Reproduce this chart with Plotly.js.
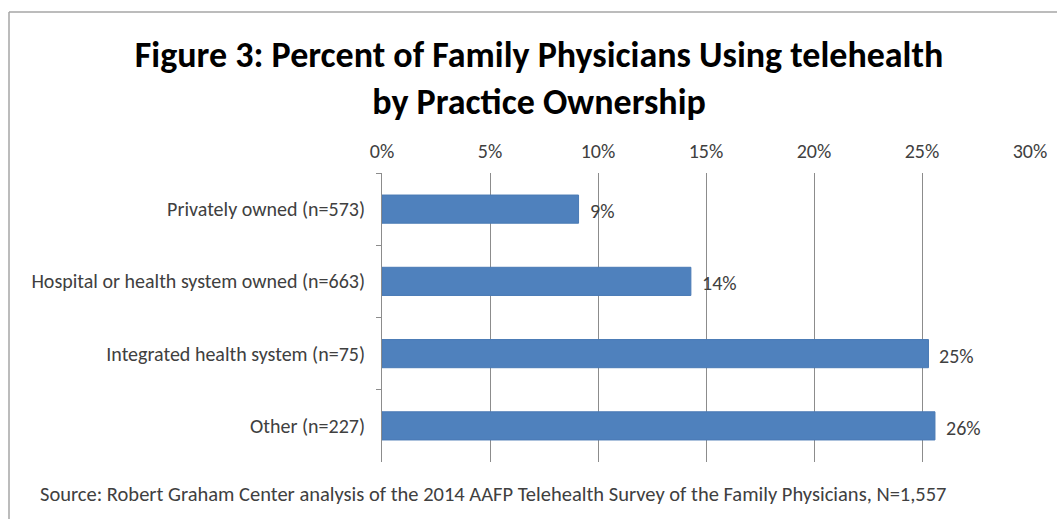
<!DOCTYPE html>
<html>
<head>
<meta charset="utf-8">
<script src="https://cdn.plot.ly/plotly-3.0.1.min.js"></script>
<style>html,body{margin:0;padding:0;background:#fff;}#chart{width:1057px;height:519px;}</style>
</head>
<body>
<div id="chart"></div>
<script>
const categories = ["Privately owned (n=573)", "Hospital or health system owned (n=663)", "Integrated health system (n=75)", "Other (n=227)"];
const values = [9.1, 14.3, 25.3, 25.6];
const valueLabels = ["9%", "14%", "25%", "26%"];
const tickVals = [0, 5, 10, 15, 20, 25, 30];
const tickText = ["0%", "5%", "10%", "15%", "20%", "25%", "30%"];
const titleText = "Figure 3: Percent of Family Physicians Using telehealth<br>by Practice Ownership";
const sourceText = "Source: Robert Graham Center analysis of the 2014 AAFP Telehealth Survey of the Family Physicians, N=1,557";

const font = "Carlito, Lato, sans-serif";
const L = 382, R = 1030, T = 173, B = 462;
const px = x => (x - L) / (R - L);
const py = y => (B - y) / (B - T);

const trace = {
  type: "bar",
  orientation: "h",
  x: values,
  y: categories,
  marker: {color: "#4F81BD", line: {color: "#4A7AB5", width: 1}},
  width: 0.39,
  hoverinfo: "none"
};

const labelAnns = values.map((v, i) => ({
  x: v, y: categories[i], xref: "x", yref: "y",
  text: valueLabels[i], showarrow: false,
  xanchor: "left", yanchor: "middle", xshift: 9, yshift: -2,
  font: {family: font, size: 20, color: "#404040"}
}));

const layout = {
  width: 1057, height: 519,
  margin: {l: L, r: 1057 - R, t: T, b: 519 - B, pad: 0},
  paper_bgcolor: "#ffffff",
  plot_bgcolor: "#ffffff",
  showlegend: false,
  title: {
    text: titleText,
    font: {family: font, size: 36, color: "#000000", weight: "bold"},
    x: 0.51, xref: "container", xanchor: "center",
    y: 0.87, yref: "container", yanchor: "top"
  },
  xaxis: {
    side: "top",
    range: [0, 30],
    tickvals: tickVals,
    ticktext: tickText,
    showgrid: true,
    gridcolor: "#8c8c8c",
    gridwidth: 1,
    zeroline: false,
    showline: false,
    ticks: "",
    tickfont: {family: font, size: 20, color: "#404040"},
    ticklabelstandoff: 10,
    fixedrange: true
  },
  yaxis: {
    autorange: "reversed",
    showline: true,
    linecolor: "#8c8c8c",
    linewidth: 1,
    ticks: "outside",
    ticklen: 5,
    tickcolor: "#8c8c8c",
    tickson: "boundaries",
    showgrid: false,
    zeroline: false,
    tickfont: {family: font, size: 20, color: "#404040"},
    ticklabelstandoff: 12,
    fixedrange: true
  },
  shapes: [
    {type: "line", xref: "paper", yref: "paper", x0: px(9), x1: px(1060), y0: py(12), y1: py(12), line: {color: "#a6a6a6", width: 1.5}},
    {type: "line", xref: "paper", yref: "paper", x0: px(9), x1: px(9), y0: py(12), y1: py(522), line: {color: "#a6a6a6", width: 1.5}}
  ],
  annotations: labelAnns.concat([
    {text: sourceText, xref: "paper", yref: "paper", x: px(38), y: py(494), xanchor: "left", yanchor: "middle", showarrow: false,
     font: {family: font, size: 20.5, color: "#404040"}}
  ])
};

Plotly.newPlot("chart", [trace], layout, {displayModeBar: false, staticPlot: true});
</script>
</body>
</html>
